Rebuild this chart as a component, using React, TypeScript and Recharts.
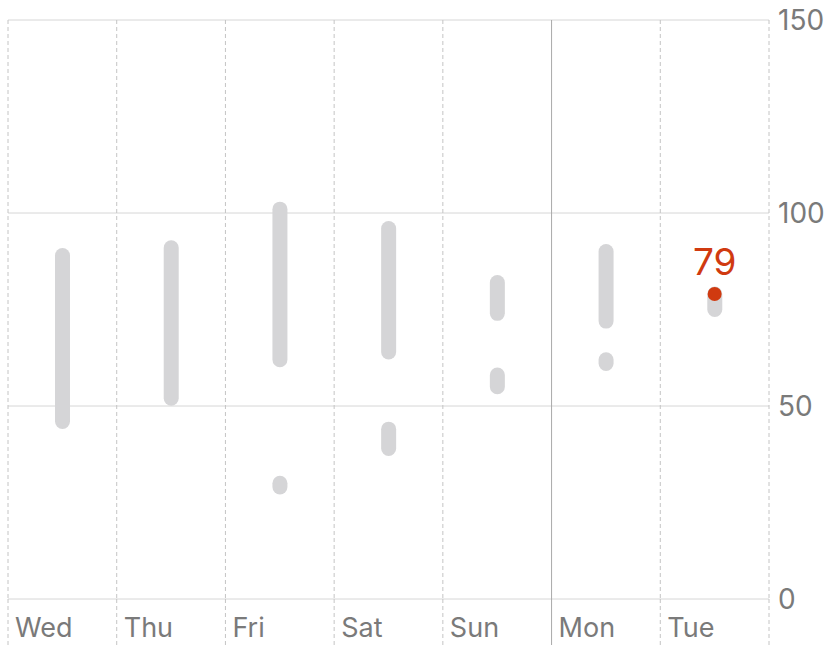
import { ComposedChart, Bar, Line, XAxis, YAxis, CartesianGrid, LabelList } from 'recharts'

// ── Data ──────────────────────────────────────────────────────────────────────

const days = ['Wed', 'Thu', 'Fri', 'Sat', 'Sun', 'Mon', 'Tue']

// main heart-rate range per day (min / max)
const mainLow = [46, 52, 62, 64, 74, 72, 75]
const mainHigh = [89, 91, 101, 96, 82, 90, 79]

// second, smaller cluster of readings (null = none)
const extraLow = [null, null, 29, 39, 55, 61, null]
const extraHigh = [null, null, 30, 44, 58, 62, null]

// latest reading, highlighted
const latest = [null, null, null, null, null, null, 79]

const yTicks = [0, 50, 100, 150]

// ── Layout / palette ──────────────────────────────────────────────────────────

const W = 831
const H = 645
const M = { top: 20, right: 0, left: 8, bottom: 0 }
const Y_W = 62
const X_H = 46
const PLOT_W = W - M.left - M.right - Y_W
const PLOT_BOTTOM = H - M.bottom - X_H
const BAND = PLOT_W / days.length

const BAR_GREY = '#d5d5d7'
const RED = '#d03a10'
const TEXT = '#7a7a7a'
const DASH = '#c4c4c4'
const SOLID_V = '#a9a9a9'
const H_LINE = '#d6d6d6'
const FONT = 'Inter, "Open Sans", sans-serif'

const rows = days.map((day, i) => ({
  day,
  main: [mainLow[i], mainHigh[i]],
  extra: extraLow[i] == null ? null : [extraLow[i], extraHigh[i]],
  latest: latest[i],
}))

// ── Shapes ────────────────────────────────────────────────────────────────────

const capsule = (key: string) => (props: any) => {
  const { x, y, width, height, payload } = props
  if (!payload || payload[key] == null) return <g />
  const r = width / 2
  return <rect x={x} y={y - r} width={width} height={Math.max(0, height) + 2 * r} rx={r} ry={r} fill={BAR_GREY} />
}

function DayTick(props: any) {
  const { x, payload, index } = props
  const left = x - BAND / 2
  const isMon = payload.value === 'Mon'
  return (
    <g>
      <line
        x1={left} x2={left} y1={PLOT_BOTTOM} y2={H}
        stroke={isMon ? SOLID_V : DASH}
        strokeDasharray={isMon ? undefined : '4 3'}
      />
      {index === days.length - 1 && (
        <line x1={left + BAND} x2={left + BAND} y1={PLOT_BOTTOM} y2={H} stroke={DASH} strokeDasharray="4 3" />
      )}
      <text x={left + 7} y={PLOT_BOTTOM + 38} fill={TEXT} fontSize={27} fontFamily={FONT}>
        {payload.value}
      </text>
    </g>
  )
}

function ValueTick(props: any) {
  const { y, payload } = props
  return (
    <text x={M.left + PLOT_W + 9} y={y} dy={10} fill={TEXT} fontSize={28} fontFamily={FONT}>
      {payload.value}
    </text>
  )
}

const boundaries = (solid: boolean) => ({ offset }: any) => {
  const out: number[] = []
  for (let i = 0; i <= days.length; i++) {
    const isMon = days[i] === 'Mon'
    if (isMon === solid) out.push(offset.left + (i * offset.width) / days.length)
  }
  return out
}

// ── Chart ─────────────────────────────────────────────────────────────────────

export default function App() {
  return (
    <div style={{ position: 'absolute', left: 0, top: 0, width: W, height: H, background: '#fff' }}>
      <ComposedChart width={W} height={H} data={rows} margin={M}>
        <CartesianGrid stroke={H_LINE} vertical={false} />
        <CartesianGrid
          stroke={DASH}
          strokeDasharray="4 3"
          horizontal={false}
          verticalCoordinatesGenerator={boundaries(false)}
        />
        <CartesianGrid
          stroke={SOLID_V}
          horizontal={false}
          verticalCoordinatesGenerator={boundaries(true)}
        />
        <XAxis dataKey="day" axisLine={false} tickLine={false} height={X_H} tick={<DayTick />} interval={0} />
        <XAxis xAxisId="alt" dataKey="day" hide />
        <YAxis
          orientation="right"
          domain={[0, 150]}
          ticks={yTicks}
          axisLine={false}
          tickLine={false}
          width={Y_W}
          tick={<ValueTick />}
        />
        <Bar dataKey="main" barSize={15} shape={capsule('main')} isAnimationActive={false} />
        <Bar dataKey="extra" xAxisId="alt" barSize={15} shape={capsule('extra')} isAnimationActive={false} />
        <Line
          dataKey="latest"
          stroke="none"
          dot={{ r: 7, fill: RED, stroke: 'none' }}
          activeDot={false}
          isAnimationActive={false}
        >
          <LabelList dataKey="latest" position="top" offset={19} fill={RED} fontSize={37} fontFamily={FONT} />
        </Line>
      </ComposedChart>
    </div>
  )
}
